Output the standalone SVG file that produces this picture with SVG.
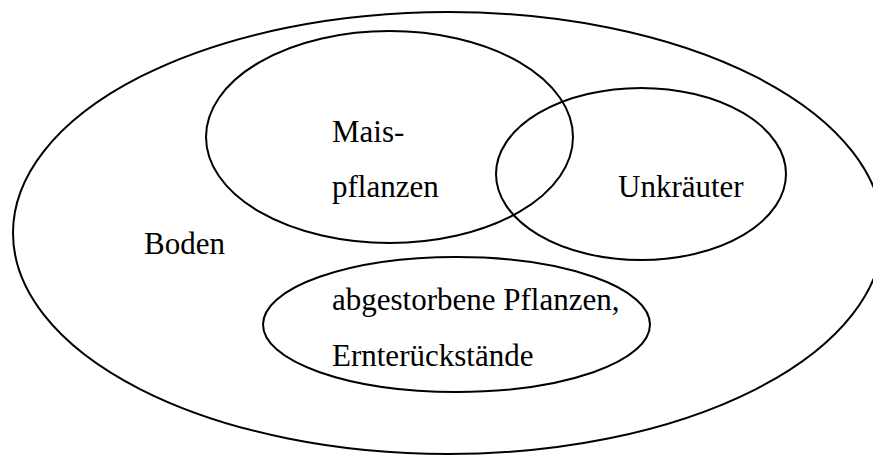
<svg xmlns="http://www.w3.org/2000/svg" width="873" height="455" viewBox="0 0 873 455">
<style>
.e{fill:none;stroke:#000;stroke-width:2}
.t{font-family:"Liberation Serif","Times New Roman",serif;font-size:31px;fill:#000}
</style>
<rect width="873" height="455" fill="#fff"/>
<g id="boden"><ellipse class="e" cx="448" cy="233" rx="435" ry="221"/><text class="t" x="144" y="254">Boden</text></g>
<g id="mais"><ellipse class="e" cx="389.5" cy="137" rx="183.5" ry="106"/><text class="t" x="332" y="142">Mais-</text><text class="t" x="332" y="197">pflanzen</text></g>
<g id="unkraeuter"><ellipse class="e" cx="641" cy="174" rx="145" ry="86"/><text class="t" x="618" y="197">Unkräuter</text></g>
<g id="rueckstaende"><ellipse class="e" cx="456.5" cy="324.5" rx="193.5" ry="67.5"/><text class="t" x="332" y="310">abgestorbene Pflanzen,</text><text class="t" x="332" y="366">Ernterückstände</text></g>
<g id="connectors"/>
</svg>
